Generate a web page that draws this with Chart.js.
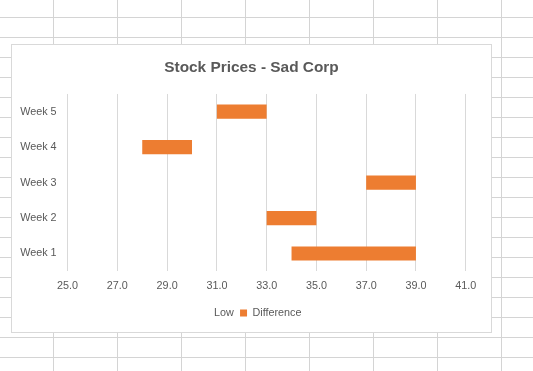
<!DOCTYPE html>
<html>
<head>
<meta charset="utf-8">
<script src="https://cdn.jsdelivr.net/npm/chart.js@4.4.1/dist/chart.umd.min.js"></script>
<style>
  html, body { margin: 0; padding: 0; }
  body {
    width: 533px; height: 371px; overflow: hidden; position: relative;
    background-color: #fff;
    background-image:
      linear-gradient(to right, #d4d4d4 1px, transparent 1px),
      linear-gradient(to bottom, #d4d4d4 1px, transparent 1px);
    background-size: 64px 20px;
    background-position: 53px 17px;
  }
  #box {
    position: absolute; left: 11px; top: 44px;
    width: 479px; height: 287px;
    border: 1px solid #d9d9d9; background: #fff;
  }
</style>
</head>
<body>
<div id="box"><canvas id="stockChart" width="479" height="287"></canvas></div>
<script>
const aWeeks = ["Week 1", "Week 2", "Week 3", "Week 4", "Week 5"];
const aLow = [34, 33, 37, 28, 31];
const aDifference = [5, 2, 2, 2, 2];
const sOrange = "rgb(237, 125, 49)";
const sText = "#595959";

Chart.defaults.font.family = "'Liberation Sans', Arial, sans-serif";
Chart.defaults.font.size = 10.8;
Chart.defaults.color = sText;

let data = {
    labels: aWeeks,
    datasets: [{
        label: "Low",
        data: aLow,
        backgroundColor: "rgba(0,0,0,0)",
        borderWidth: 0
    }, {
        label: "Difference",
        data: aDifference,
        backgroundColor: sOrange,
        borderWidth: 0
    }]
};

let config = {
    type: "bar",
    data: data,
    options: {
        indexAxis: "y",
        responsive: false,
        animation: false,
        barPercentage: 0.4,
        categoryPercentage: 1.0,
        layout: {
            padding: { left: 8, right: 8, top: 0, bottom: 3.7 }
        },
        plugins: {
            title: {
                display: true,
                text: "Stock Prices - Sad Corp",
                color: sText,
                font: { size: 15.4, weight: "bold" },
                padding: { top: 14, bottom: 16.5 }
            },
            legend: {
                display: true,
                position: "bottom",
                labels: { boxWidth: 7, boxHeight: 7, padding: 6.3, color: sText }
            },
            tooltip: { enabled: false }
        },
        scales: {
            x: {
                stacked: true,
                min: 25,
                max: 41,
                grid: { color: "#d9d9d9", drawTicks: false },
                border: { display: false },
                ticks: {
                    stepSize: 2,
                    padding: 8.5,
                    callback: (v) => Number(v).toFixed(1)
                }
            },
            y: {
                stacked: true,
                reverse: true,
                grid: { display: false, drawTicks: false },
                border: { display: false },
                ticks: { padding: 11 },
                afterFit: (scale) => { scale.width = 47.6; }
            },
            // empty right-hand space, like Excel's plot area inset
            y2: {
                type: "category",
                labels: aWeeks,
                position: "right",
                grid: { display: false, drawTicks: false },
                border: { display: false },
                ticks: { display: false },
                afterFit: (scale) => { scale.width = 17.3; }
            }
        }
    }
};

new Chart(document.getElementById("stockChart").getContext("2d"), config);
</script>
</body>
</html>
